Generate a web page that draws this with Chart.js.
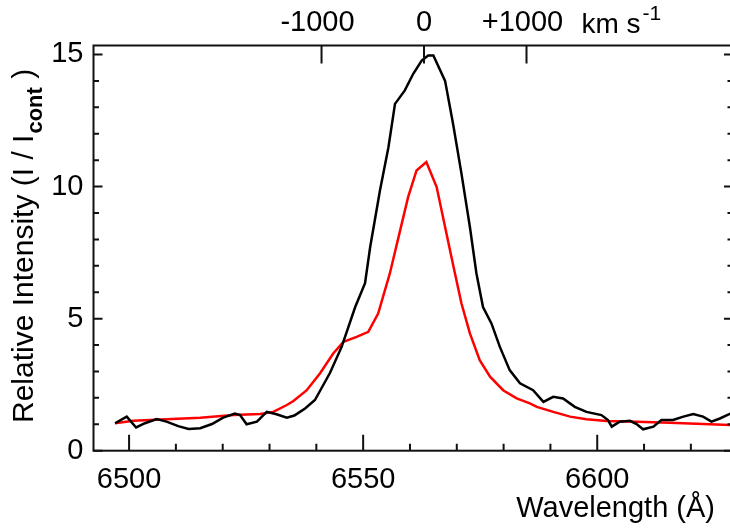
<!DOCTYPE html>
<html>
<head>
<meta charset="utf-8">
<script src="https://cdn.jsdelivr.net/npm/chart.js@4.4.1/dist/chart.umd.min.js"></script>
<style>
    html, body { margin: 0; padding: 0; background: #fff; overflow: hidden; }
    #chart { display: block; }
</style>
</head>
<body>
<canvas id="chart" width="740" height="529"></canvas>
<script>
// observed profile (black)
const obsWave = [6497.0, 6499.5, 6501.5, 6503.4, 6505.9, 6508.0, 6510.5, 6512.7, 6515.2, 6517.7,
    6520.1, 6522.6, 6523.7, 6525.1, 6527.3, 6529.4, 6531.5, 6533.7, 6535.3, 6536.5,
    6537.6, 6539.7, 6542.9, 6545.4, 6548.3, 6550.4, 6551.5, 6553.6, 6555.4, 6556.8,
    6558.9, 6560.7, 6562.5, 6563.9, 6565.0, 6567.5, 6569.2, 6571.0, 6572.8, 6574.2,
    6575.6, 6577.4, 6579.2, 6581.3, 6583.5, 6586.3, 6588.5, 6590.6, 6592.7, 6595.2,
    6597.7, 6600.9, 6602.3, 6603.1, 6604.8, 6607.0, 6608.4, 6609.8, 6612.0, 6613.7,
    6616.2, 6618.4, 6620.5, 6622.6, 6624.4, 6626.2, 6628.3, 6630.0];
const obsFlux = [1.04, 1.29, 0.88, 1.04, 1.20, 1.10, 0.93, 0.82, 0.85, 1.01,
    1.25, 1.41, 1.35, 1.00, 1.10, 1.47, 1.38, 1.25, 1.33, 1.47,
    1.60, 1.92, 2.94, 3.93, 5.44, 6.34, 7.71, 9.86, 11.49, 13.13,
    13.64, 14.27, 14.77, 14.96, 14.96, 14.00, 12.38, 10.49, 8.47, 6.71,
    5.44, 4.82, 3.93, 3.05, 2.55, 2.29, 1.85, 2.04, 1.98, 1.66,
    1.47, 1.35, 1.16, 0.91, 1.10, 1.13, 1.01, 0.81, 0.91, 1.16,
    1.16, 1.29, 1.39, 1.29, 1.10, 1.22, 1.39, 1.45];

// model profile (red)
const modelWave = [6497.0, 6500.9, 6508.0, 6515.2, 6522.3, 6528.0, 6530.8, 6533.7, 6535.1, 6537.9,
    6540.8, 6543.6, 6545.8, 6548.6, 6551.1, 6553.2, 6555.7, 6557.9, 6559.6, 6561.4,
    6563.5, 6565.7, 6567.5, 6569.3, 6571.0, 6572.8, 6574.9, 6577.1, 6579.9, 6582.8,
    6585.6, 6587.1, 6590.6, 6594.2, 6597.7, 6602.0, 6608.4, 6615.5, 6622.6, 6628.3, 6630.0];
const modelFlux = [1.04, 1.13, 1.19, 1.25, 1.35, 1.39, 1.47, 1.73, 1.88, 2.28,
    2.93, 3.68, 4.12, 4.31, 4.50, 5.19, 6.71, 8.34, 9.60, 10.61,
    10.93, 9.98, 8.47, 6.96, 5.57, 4.44, 3.43, 2.80, 2.29, 1.98,
    1.79, 1.66, 1.47, 1.29, 1.19, 1.12, 1.10, 1.06, 1.01, 0.97, 0.97];

// axes
const waveMin = 6492.4, waveMax = 6629.0;
const fluxMin = 0, fluxMax = 15.34;
const waveTicks = [6500, 6550, 6600];
const fluxTicks = [0, 5, 10, 15];
const velTicks = [-1000, 0, 1000];
const velLabels = ['-1000 ', '0', '+1000 '];
const LAMBDA0 = 6563.0;
const C_KMS = 299792.458;

const FONT = '"Liberation Sans", Arial, Helvetica, sans-serif';

function toVel(w) { return (w - LAMBDA0) / LAMBDA0 * C_KMS; }
function pairs(xs, ys) { return xs.map((x, i) => ({ x: x, y: ys[i] })); }

// box + inward ticks + extra texts
const framePlugin = {
    id: 'frame',
    afterDraw(chart) {
        const ctx = chart.ctx;
        const a = chart.chartArea;
        const sx = chart.scales.x, sy = chart.scales.y, sv = chart.scales.x2;
        ctx.save();
        ctx.strokeStyle = '#111';
        ctx.lineWidth = 2;
        ctx.strokeRect(a.left, a.top, a.right - a.left, a.bottom - a.top);

        ctx.beginPath();
        for (let w = 6500; w <= waveMax; w += 10) {
            const px = sx.getPixelForValue(w);
            const len = (w % 50 === 0) ? 16 : 7;
            ctx.moveTo(px, a.bottom);
            ctx.lineTo(px, a.bottom - len);
        }
        for (let f = 0; f <= 15; f++) {
            const py = sy.getPixelForValue(f);
            const len = (f % 5 === 0) ? 9 : 5.5;
            ctx.moveTo(a.left, py);
            ctx.lineTo(a.left + len, py);
            ctx.moveTo(a.right, py);
            ctx.lineTo(a.right - len, py);
        }
        velTicks.forEach(v => {
            const px = sv.getPixelForValue(v);
            ctx.moveTo(px, a.top);
            ctx.lineTo(px, a.top + 18);
        });
        ctx.stroke();

        ctx.fillStyle = '#000';
        // km s^-1 after the +1000 label
        const kx = sv.getPixelForValue(1000) + 55;
        ctx.font = '28px ' + FONT;
        ctx.textAlign = 'left';
        ctx.textBaseline = 'alphabetic';
        ctx.fillText('km s', kx, 33);
        const kw = ctx.measureText('km s').width;
        ctx.font = '21px ' + FONT;
        ctx.fillText('-1', kx + kw + 2, 20);

        // x title
        ctx.font = '29px ' + FONT;
        ctx.textAlign = 'right';
        ctx.fillText('Wavelength (\u00C5)', 715, 517);

        // y title, rotated, with subscript
        ctx.translate(33, 423);
        ctx.rotate(-Math.PI / 2);
        ctx.textAlign = 'left';
        ctx.font = '30px ' + FONT;
        const main = 'Relative Intensity (I / I';
        ctx.fillText(main, 0, 0);
        let off = ctx.measureText(main).width + 1;
        ctx.font = 'bold 22px ' + FONT;
        ctx.fillText('cont', off, 9);
        off += ctx.measureText('cont').width;
        ctx.font = '30px ' + FONT;
        ctx.fillText(' )', off, 0);
        ctx.restore();
    }
};

document.addEventListener('DOMContentLoaded', function() {
    new Chart(document.getElementById('chart'), {
        type: 'line',
        data: {
            datasets: [
                { label: 'observed', data: pairs(obsWave, obsFlux), borderColor: '#000', borderWidth: 2.5,
                  pointRadius: 0, tension: 0, fill: false, xAxisID: 'x', yAxisID: 'y' },
                { label: 'model', data: pairs(modelWave, modelFlux), borderColor: '#ff0000', borderWidth: 2.5,
                  pointRadius: 0, tension: 0, fill: false, xAxisID: 'x', yAxisID: 'y' }
            ]
        },
        options: {
            responsive: false,
            animation: false,
            devicePixelRatio: 1,
            layout: { padding: { left: 0, top: 0, right: 7, bottom: 0 } },
            plugins: { legend: { display: false }, tooltip: { enabled: false } },
            scales: {
                x: {
                    type: 'linear', position: 'bottom', min: waveMin, max: waveMax,
                    afterBuildTicks: s => { s.ticks = waveTicks.map(v => ({ value: v })); },
                    afterFit: s => { s.height = 78.3; },
                    grid: { display: false, drawTicks: false },
                    border: { display: false },
                    ticks: { color: '#000', padding: 12, maxRotation: 0, autoSkip: false,
                             font: { family: FONT, size: 29 }, callback: v => String(v) }
                },
                x2: {
                    type: 'linear', position: 'top', min: toVel(waveMin), max: toVel(waveMax),
                    afterBuildTicks: s => { s.ticks = velTicks.map(v => ({ value: v })); },
                    afterFit: s => { s.height = 45.5; },
                    grid: { display: false, drawTicks: false },
                    border: { display: false },
                    ticks: { color: '#000', padding: 5, maxRotation: 0, autoSkip: false,
                             font: { family: FONT, size: 29 },
                             callback: v => velLabels[velTicks.indexOf(v)] }
                },
                y: {
                    type: 'linear', position: 'left', min: fluxMin, max: fluxMax,
                    afterBuildTicks: s => { s.ticks = fluxTicks.map(v => ({ value: v })); },
                    afterFit: s => { s.width = 93.5; },
                    grid: { display: false, drawTicks: false },
                    border: { display: false },
                    ticks: { color: '#000', padding: 10, font: { family: FONT, size: 29 },
                             callback: v => String(v) }
                }
            }
        },
        plugins: [framePlugin]
    });
});
</script>
</body>
</html>
